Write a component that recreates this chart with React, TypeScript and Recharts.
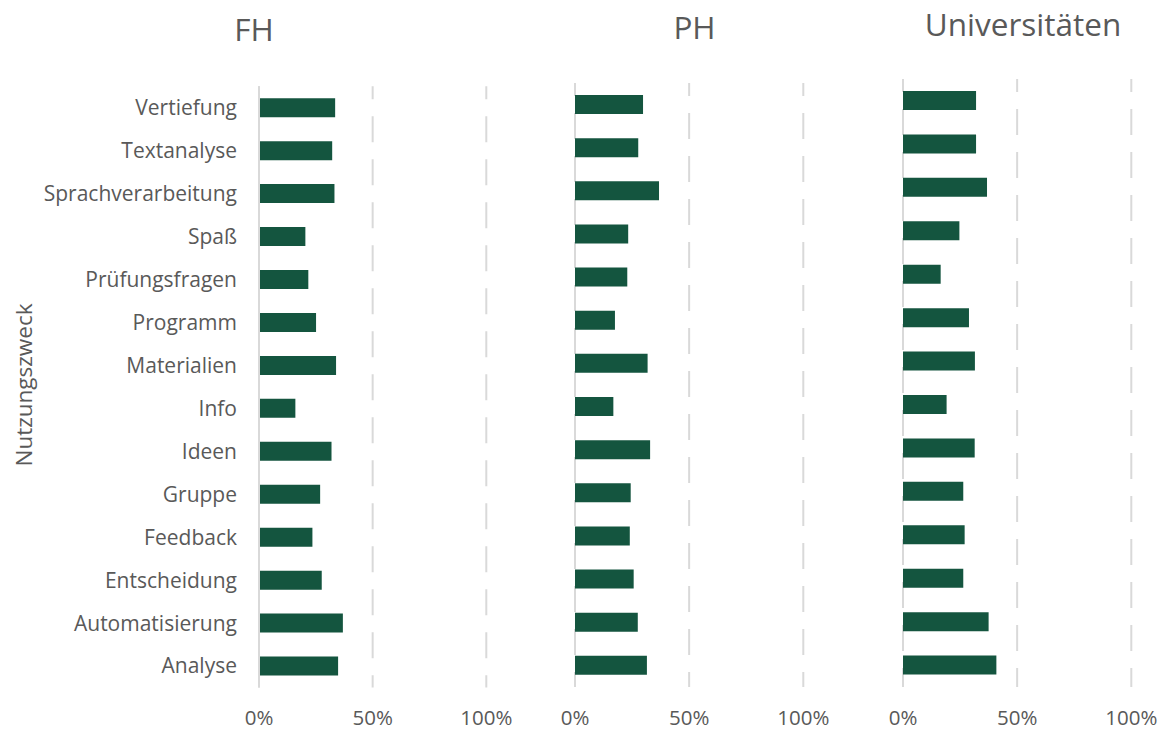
import React from 'react';
import { BarChart, Bar, XAxis, YAxis, CartesianGrid } from 'recharts';

const categories = [
  'Vertiefung',
  'Textanalyse',
  'Sprachverarbeitung',
  'Spaß',
  'Prüfungsfragen',
  'Programm',
  'Materialien',
  'Info',
  'Ideen',
  'Gruppe',
  'Feedback',
  'Entscheidung',
  'Automatisierung',
  'Analyse',
];

// Anteile in Prozent
const fhValues = [33.5, 32.2, 33.2, 20.4, 21.7, 25.1, 33.9, 16.0, 31.9, 26.9, 23.5, 27.6, 36.9, 34.8];
const phValues = [29.8, 27.7, 36.8, 23.3, 22.9, 17.5, 31.8, 16.8, 32.9, 24.4, 24.0, 25.7, 27.5, 31.5];
const uniValues = [32.0, 32.0, 36.8, 24.7, 16.5, 28.9, 31.5, 19.1, 31.4, 26.4, 27.0, 26.4, 37.5, 40.9];

const panelTitles = ['FH', 'PH', 'Universitäten'];
const xTicks = [0, 50, 100];
const axisTitle = 'Nutzungszweck';

const data = categories.map((name, i) => ({
  name,
  fh: fhValues[i],
  ph: phValues[i],
  uni: uniValues[i],
}));

const TEXT = '#595959';
const GRID = '#d9d9d9';
const BAR = '#14553f';
const FONT = '"Open Sans", sans-serif';

interface PanelProps {
  dataKey: string;
  left: number;
  width: number;
  marginLeft: number;
  marginRight: number;
  top: number;
  plotBottom: number;
  showLabels?: boolean;
}

function Panel({ dataKey, left, width, marginLeft, marginRight, top, plotBottom, showLabels }: PanelProps) {
  const height = 731;
  const xAxisHeight = 40;
  return (
    <div style={{ position: 'absolute', left, top: 0 }}>
      <BarChart
        width={width}
        height={height}
        data={data}
        layout="vertical"
        margin={{ top, right: marginRight, left: marginLeft, bottom: height - plotBottom - xAxisHeight }}
      >
        <CartesianGrid
          horizontal={false}
          stroke={GRID}
          strokeWidth={2}
          strokeDasharray="26 17"
          strokeDashoffset={13}
        />
        <XAxis
          type="number"
          domain={[0, 100]}
          ticks={xTicks}
          tickFormatter={(v: number) => `${v}%`}
          axisLine={false}
          tickLine={false}
          tickMargin={17}
          height={xAxisHeight}
          tick={{ fill: TEXT, fontSize: 20.5, fontFamily: FONT }}
        />
        <YAxis
          type="category"
          dataKey="name"
          interval={0}
          width={showLabels ? 259 : 0}
          tick={showLabels ? { fill: TEXT, fontSize: 21, fontFamily: FONT } : false}
          tickLine={false}
          tickMargin={16}
          axisLine={{ stroke: GRID, strokeWidth: 2 }}
        />
        <Bar dataKey={dataKey} fill={BAR} barSize={19} isAnimationActive={false} />
      </BarChart>
    </div>
  );
}

const titleStyle: React.CSSProperties = {
  position: 'absolute',
  width: 240,
  textAlign: 'center',
  fontSize: 31.5,
  lineHeight: 1,
  color: TEXT,
  fontFamily: FONT,
};

export default function App() {
  return (
    <div
      style={{
        position: 'absolute',
        left: 0,
        top: 0,
        width: 1164,
        height: 731,
        background: '#fff',
        fontFamily: FONT,
      }}
    >
      <Panel dataKey="fh" left={0} width={520} marginLeft={0} marginRight={33.7} top={86.2} plotBottom={687.5} showLabels />
      <Panel dataKey="ph" left={520} width={330} marginLeft={55} marginRight={46.7} top={83} plotBottom={687} />
      <Panel dataKey="uni" left={850} width={314} marginLeft={53} marginRight={32.7} top={79} plotBottom={687} />

      <div style={{ ...titleStyle, left: 254 - 120, top: 12.8 }}>{panelTitles[0]}</div>
      <div style={{ ...titleStyle, left: 694.5 - 120, top: 10.5 }}>{panelTitles[1]}</div>
      <div style={{ ...titleStyle, left: 1023 - 120, top: 7.8 }}>{panelTitles[2]}</div>

      <div
        style={{
          position: 'absolute',
          left: 24 - 100,
          top: 385 - 11,
          width: 200,
          height: 22,
          lineHeight: '22px',
          fontSize: 22.5,
          textAlign: 'center',
          color: TEXT,
          fontFamily: FONT,
          transform: 'rotate(-90deg)',
        }}
      >
        {axisTitle}
      </div>
    </div>
  );
}
